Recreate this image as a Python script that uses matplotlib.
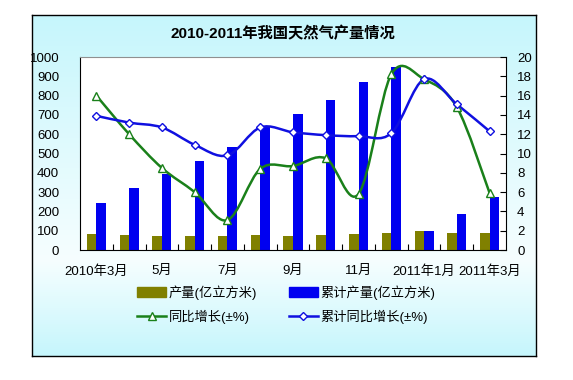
import numpy as np
import matplotlib
matplotlib.use("Agg")
import matplotlib.pyplot as plt
from matplotlib.path import Path
from matplotlib.patches import PathPatch, Patch
from matplotlib.lines import Line2D

plt.rcParams['font.family'] = ['Liberation Sans', 'Noto Sans CJK SC', 'DejaVu Sans']

# data
months = ['2010年3月', '4月', '5月', '6月', '7月', '8月', '9月', '10月', '11月', '12月',
          '2011年1月', '2月', '2011年3月']
tick_labels = ['2010年3月', '', '5月', '', '7月', '', '9月', '', '11月', '', '2011年1月', '', '2011年3月']
output = [85, 80, 75, 75, 75, 80, 75, 80, 85, 90, 100, 90, 90]
cum_output = [245, 320, 395, 460, 532, 635, 705, 777, 868, 947, 100, 186, 275]
yoy = [16.0, 12.0, 8.5, 6.0, 3.1, 8.4, 8.7, 9.5, 5.8, 18.2, 17.7, 14.8, 5.9]
cum_yoy = [13.9, 13.2, 12.7, 10.9, 9.8, 12.7, 12.2, 11.9, 11.8, 12.1, 17.7, 15.1, 12.3]

olive = '#808000'
blue = '#0000f0'
green = '#1a801a'
lblue = '#1010e0'


def smooth_path(x, y):
    # Excel-style smoothed line (Catmull-Rom as cubic Bezier)
    verts = [(x[0], y[0])]
    codes = [Path.MOVETO]
    n = len(x)
    for i in range(n - 1):
        a = i - 1 if i > 0 else i
        b = i + 2 if i + 2 < n else i + 1
        c1 = (x[i] + (x[i + 1] - x[a]) / 6, y[i] + (y[i + 1] - y[a]) / 6)
        c2 = (x[i + 1] - (x[b] - x[i]) / 6, y[i + 1] - (y[b] - y[i]) / 6)
        verts += [c1, c2, (x[i + 1], y[i + 1])]
        codes += [Path.CURVE4] * 3
    return Path(verts, codes)


W, H = 573, 380
fig = plt.figure(figsize=(W / 100, H / 100), dpi=100)
fig.patch.set_facecolor('white')

# chart area background with gradient
bg = fig.add_axes([32 / W, 1 - 356 / H, 504 / W, 341 / H])
top = np.array([198, 246, 252]) / 255
mid = np.array([246, 254, 255]) / 255
t = np.linspace(0, 1, 200)[:, None]
w = np.clip(1 - np.abs(t - 0.72) / 0.72, 0, 1)
w[t[:, 0] > 0.72] = np.clip(1 - (t[t[:, 0] > 0.72] - 0.72) / 0.28, 0, 1)
grad = top[None, :] * (1 - w) + mid[None, :] * w
bg.imshow(grad[:, None, :], aspect='auto', extent=[0, 1, 0, 1])
bg.set_xticks([])
bg.set_yticks([])
for s in bg.spines.values():
    s.set_color('black')
    s.set_linewidth(1)

ax = fig.add_axes([80 / W, 1 - 250 / H, 426 / W, 193 / H])
ax.set_facecolor('white')
x = np.arange(len(months))
bw = 0.29
ax.bar(x - bw / 2, output, width=bw, color=olive, zorder=2)
ax.bar(x + bw / 2, cum_output, width=bw, color=blue, zorder=2)
ax.set_xlim(-0.5, len(months) - 0.5)
ax.set_ylim(0, 1000)
ax.set_yticks(np.arange(0, 1001, 100))
ax.set_xticks(x)
ax.set_xticklabels(tick_labels)
ax.set_xticks(np.arange(0.5, len(months) - 0.5, 1), minor=True)
ax.tick_params(axis='x', which='major', length=0, pad=11, labelsize=9.5)
ax.tick_params(axis='x', which='minor', direction='in', length=4, width=0.8)
ax.tick_params(axis='y', length=0, pad=15, labelsize=9.5)
ax.spines['top'].set_color('#909090')
ax.spines['left'].set_color('black')
ax.spines['bottom'].set_color('black')
ax.spines['right'].set_visible(False)

ax2 = ax.twinx()
ax2.set_ylim(0, 20)
ax2.set_yticks(np.arange(0, 21, 2))
ax2.tick_params(axis='y', direction='in', length=4, width=0.8, pad=8, labelsize=9.5)
ax2.spines['right'].set_color('black')
ax2.spines['top'].set_visible(False)
ax2.spines['left'].set_visible(False)
ax2.spines['bottom'].set_visible(False)

ax2.add_patch(PathPatch(smooth_path(x, yoy), fill=False, edgecolor=green, lw=1.8, zorder=3))
ax2.add_patch(PathPatch(smooth_path(x, cum_yoy), fill=False, edgecolor=lblue, lw=1.8, zorder=3))
ax2.plot(x, yoy, ls='none', marker='^', ms=6, mfc='white', mec=green, mew=1, zorder=4)
ax2.plot(x, cum_yoy, ls='none', marker='D', ms=4.5, mfc='white', mec=lblue, mew=1, zorder=4)

fig.text(283 / W, 1 - 34 / H, '2010-2011年我国天然气产量情况', ha='center', va='center',
         fontsize=11, fontweight='bold')

handles = [Patch(color=olive),
           Line2D([], [], color=green, lw=1.8, marker='^', ms=6, mfc='white', mec=green),
           Patch(color=blue),
           Line2D([], [], color=lblue, lw=1.8, marker='D', ms=4.5, mfc='white', mec=lblue)]
labels = ['产量(亿立方米)', '同比增长(±%)', '累计产量(亿立方米)', '累计同比增长(±%)']
fig.legend(handles, labels, ncol=2, loc='upper left', bbox_to_anchor=(137 / W, 1 - 285 / H),
           frameon=False, fontsize=9.5, handlelength=2.2, handletextpad=0.2,
           columnspacing=2.4, labelspacing=0.75, borderpad=0, borderaxespad=0)

fig.savefig('out.png', dpi=100)
